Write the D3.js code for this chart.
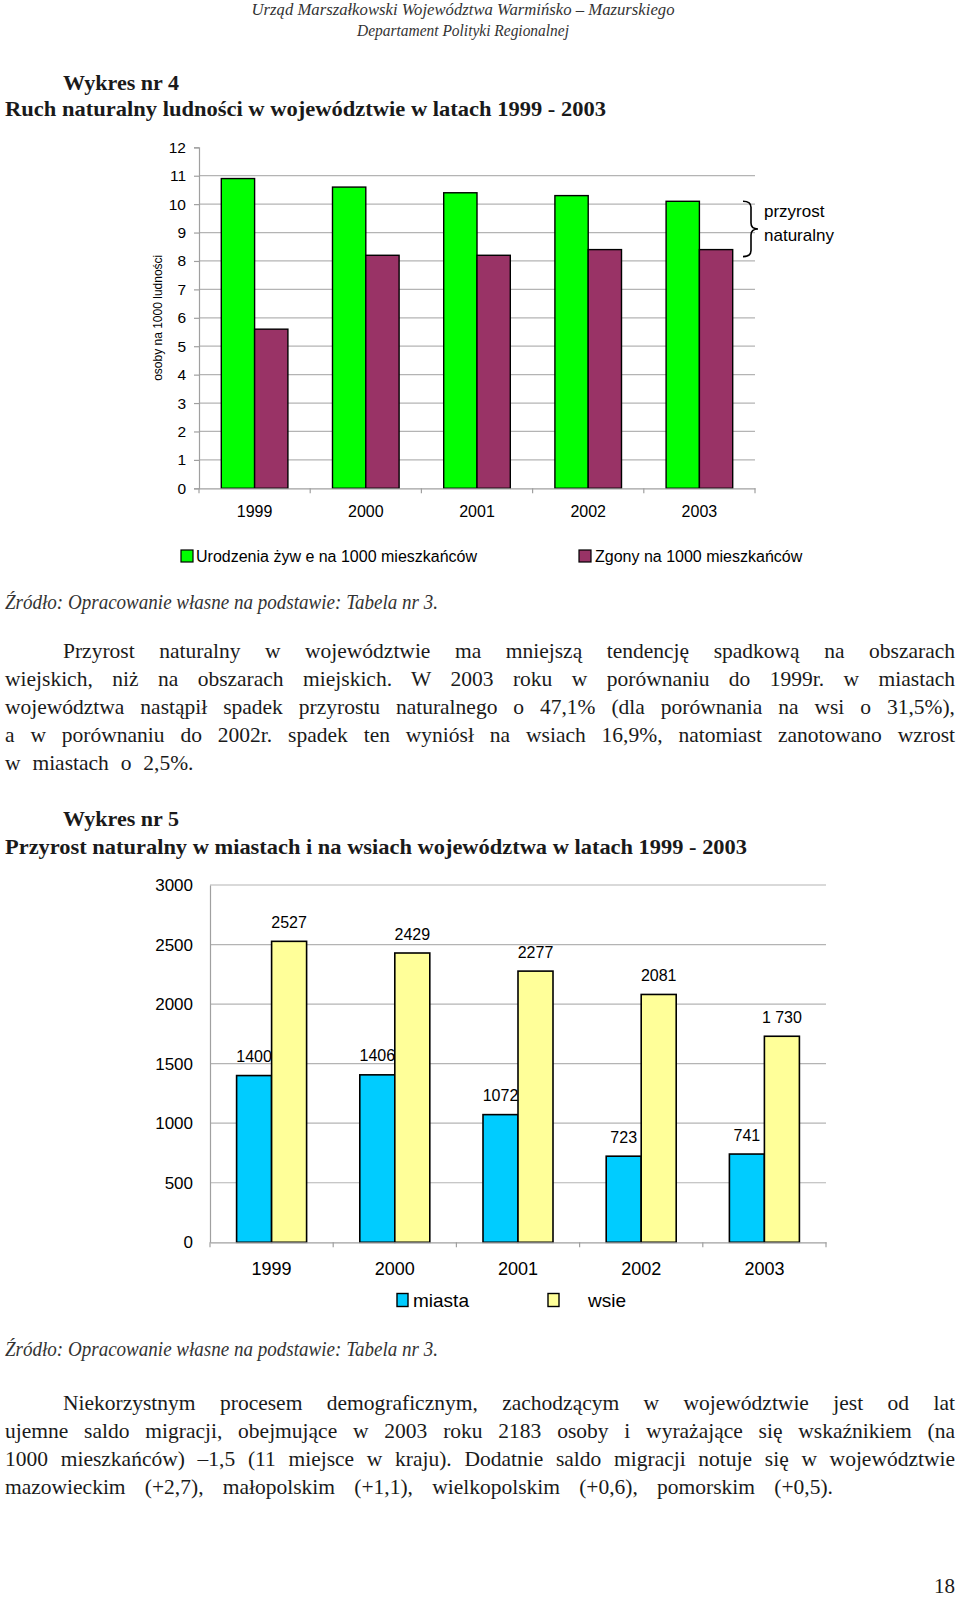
<!DOCTYPE html>
<html><head><meta charset="utf-8">
<script src="https://cdn.jsdelivr.net/npm/d3@7"></script>
<style>
html,body{margin:0;padding:0;background:#fff;}
svg{display:block;}
</style></head>
<body>
<script>
// ---------- data ----------
const years = ["1999", "2000", "2001", "2002", "2003"];
const births = [10.9, 10.6, 10.4, 10.3, 10.1];
const deaths = [5.6, 8.2, 8.2, 8.4, 8.4];
const ticks1 = [0, 1, 2, 3, 4, 5, 6, 7, 8, 9, 10, 11, 12];
const seriesNames1 = ["Urodzenia żyw e na 1000 mieszkańców", "Zgony na 1000 mieszkańców"];
const axisTitle1 = "osoby na 1000 ludności";

const cities = [1400, 1406, 1072, 723, 741];
const villages = [2527, 2429, 2277, 2081, 1730];
const cityLabels = ["1400", "1406", "1072", "723", "741"];
const villageLabels = ["2527", "2429", "2277", "2081", "1 730"];
const ticks2 = [0, 500, 1000, 1500, 2000, 2500, 3000];
const seriesNames2 = ["miasta", "wsie"];

const para1 = [
  "Przyrost naturalny w województwie ma mniejszą tendencję spadkową na obszarach",
  "wiejskich, niż na obszarach miejskich. W 2003 roku w porównaniu do 1999r. w miastach",
  "województwa nastąpił spadek przyrostu naturalnego o 47,1% (dla porównania na wsi o 31,5%),",
  "a w porównaniu do 2002r. spadek ten wyniósł na wsiach 16,9%, natomiast zanotowano wzrost",
  "w miastach o 2,5%."
];
const para2 = [
  "Niekorzystnym procesem demograficznym, zachodzącym w województwie jest od lat",
  "ujemne saldo migracji, obejmujące w 2003 roku 2183 osoby i wyrażające się wskaźnikiem (na",
  "1000 mieszkańców) –1,5 (11 miejsce w kraju). Dodatnie saldo migracji notuje się w województwie",
  "mazowieckim (+2,7), małopolskim (+1,1), wielkopolskim (+0,6), pomorskim (+0,5)."
];

// ---------- setup ----------
const W = 960, H = 1597;
const svg = d3.select("body").append("svg").attr("width", W).attr("height", H);
svg.append("rect").attr("width", W).attr("height", H).attr("fill", "#fff");

const SERIF = "'Liberation Serif', 'Times New Roman', serif";
const SANS = "'Liberation Sans', Arial, sans-serif";
const TXT = "#1a1a1a";

function fit(t, w) {
  t.attr("textLength", w).attr("lengthAdjust", "spacingAndGlyphs");
  return t;
}
function line(x, y, str, opts) {
  const t = svg.append("text").attr("x", x).attr("y", y).text(str)
    .attr("font-family", opts.family || SERIF)
    .attr("font-size", opts.size)
    .attr("fill", opts.fill || TXT);
  if (opts.weight) t.attr("font-weight", opts.weight);
  if (opts.style) t.attr("font-style", opts.style);
  if (opts.anchor) t.attr("text-anchor", opts.anchor);
  if (opts.width) fit(t, opts.width);
  return t;
}
function justify(x0, x1, y, str, size) {
  const t = line(x0, y, str, {size: size});
  const nat = t.node().getComputedTextLength();
  const nsp = (str.match(/ /g) || []).length;
  const target = x1 - x0;
  if (nsp > 0 && nat <= target) {
    t.attr("word-spacing", (target - nat) / nsp);
  } else {
    fit(t, target);
  }
}

// ---------- header ----------
line(463, 15, "Urząd Marszałkowski Województwa Warmińsko – Mazurskiego",
  {size: 17, style: "italic", anchor: "middle", width: 423, fill: "#333"});
line(463, 36, "Departament Polityki Regionalnej",
  {size: 17, style: "italic", anchor: "middle", width: 212, fill: "#333"});

line(63, 90, "Wykres nr 4", {size: 22, weight: "bold", width: 116});
line(5, 116, "Ruch naturalny ludności w województwie w latach 1999 - 2003",
  {size: 22, weight: "bold", width: 601});

// ---------- chart 1 ----------
{
  const x0 = 199, x1 = 755, yb = 488.3, yt = 147.3;
  const x = d3.scaleBand().domain(years).range([x0, x1]).padding(0);
  const y = d3.scaleLinear().domain([0, 12]).range([yb, yt]);
  const bw = 33.3;
  const g = svg.append("g");

  g.selectAll("line.grid").data(ticks1.filter(d => d > 0 && d < 12)).join("line")
    .attr("x1", x0).attr("x2", x1).attr("y1", d => y(d)).attr("y2", d => y(d))
    .attr("stroke", "#b4b4b4").attr("stroke-width", 1.2);

  const ya = g.append("g").attr("transform", `translate(${x0},0)`)
    .call(d3.axisLeft(y).tickValues(ticks1).tickSize(5).tickPadding(8).tickFormat(d3.format("d")));
  ya.select(".domain").attr("stroke", "#a0a0a0").attr("stroke-width", 1.2);
  ya.selectAll(".tick line").attr("stroke", "#a0a0a0").attr("stroke-width", 1.2);
  ya.selectAll(".tick text").attr("font-family", SANS).attr("font-size", 15.5).attr("fill", "#000");

  g.selectAll("rect.b").data(births).join("rect")
    .attr("x", (d, i) => x(years[i]) + x.bandwidth() / 2 - bw)
    .attr("width", bw).attr("y", d => y(d)).attr("height", d => yb - y(d))
    .attr("fill", "#00ff00").attr("stroke", "#000").attr("stroke-width", 1.4);
  g.selectAll("rect.d").data(deaths).join("rect")
    .attr("x", (d, i) => x(years[i]) + x.bandwidth() / 2)
    .attr("width", bw).attr("y", d => y(d)).attr("height", d => yb - y(d))
    .attr("fill", "#993366").attr("stroke", "#000").attr("stroke-width", 1.4);

  const xa = g.append("g").attr("transform", `translate(0,${yb})`)
    .call(d3.axisBottom(x).tickSize(0).tickPadding(17.5));
  xa.select(".domain").attr("stroke", "#a0a0a0").attr("stroke-width", 1.2);
  xa.selectAll(".tick text").attr("font-family", SANS).attr("font-size", 16).attr("fill", "#000");
  g.selectAll("line.xt").data(years.map(d => x(d)).concat([x1])).join("line")
    .attr("x1", d => d).attr("x2", d => d).attr("y1", yb).attr("y2", yb + 5)
    .attr("stroke", "#a0a0a0").attr("stroke-width", 1.2);

  g.append("text").attr("transform", `translate(162,${(yb + yt) / 2}) rotate(-90)`)
    .attr("text-anchor", "middle").attr("font-family", SANS).attr("font-size", 12)
    .attr("fill", "#000").text(axisTitle1);

  const bt = y(births[4]), bb = y(deaths[4]) + 7, bm = (bt + bb) / 2;
  const bx = 743;
  g.append("path")
    .attr("d", `M${bx},${bt} Q${bx + 8},${bt} ${bx + 8},${bt + 6} L${bx + 8},${bm - 6} Q${bx + 8},${bm} ${bx + 15},${bm} Q${bx + 8},${bm} ${bx + 8},${bm + 6} L${bx + 8},${bb - 6} Q${bx + 8},${bb} ${bx},${bb}`)
    .attr("fill", "none").attr("stroke", "#000").attr("stroke-width", 1.6);
  g.append("text").attr("x", 764).attr("y", 216.5).attr("font-family", SANS).attr("font-size", 17).text("przyrost");
  g.append("text").attr("x", 764).attr("y", 240.5).attr("font-family", SANS).attr("font-size", 17).text("naturalny");

  const lg = [{c: "#00ff00", bx: 181, tx: 196}, {c: "#993366", bx: 579, tx: 595}];
  lg.forEach((l, i) => {
    g.append("rect").attr("x", l.bx).attr("y", 550).attr("width", 12).attr("height", 12)
      .attr("fill", l.c).attr("stroke", "#000").attr("stroke-width", 1.2);
    g.append("text").attr("x", l.tx).attr("y", 561.5).attr("font-family", SANS)
      .attr("font-size", 16).attr("fill", "#000").text(seriesNames1[i]);
  });
}

line(5, 609, "Źródło: Opracowanie własne na podstawie: Tabela nr 3.",
  {size: 21, style: "italic", width: 433, fill: "#333"});

const p1y = [657.5, 685.5, 713.5, 741.5, 769.5];
para1.forEach((s, i) => {
  const xs = i === 0 ? 63 : 5;
  const xe = i === para1.length - 1 ? 193.5 : 955;
  justify(xs, xe, p1y[i], s, 21.5);
});

line(63, 826, "Wykres nr 5", {size: 22, weight: "bold", width: 116});
line(5, 854, "Przyrost naturalny w miastach i na wsiach województwa w latach 1999 - 2003",
  {size: 22, weight: "bold", width: 742});

// ---------- chart 2 ----------
{
  const x0 = 210, x1 = 826, yb = 1242.3, yt = 885;
  const x = d3.scaleBand().domain(years).range([x0, x1]).padding(0);
  const y = d3.scaleLinear().domain([0, 3000]).range([yb, yt]);
  const bw = 35;
  const g = svg.append("g");

  g.selectAll("line.grid").data(ticks2.filter(d => d > 0)).join("line")
    .attr("x1", x0).attr("x2", x1).attr("y1", d => y(d)).attr("y2", d => y(d))
    .attr("stroke", "#b4b4b4").attr("stroke-width", 1.2);

  const ya = g.append("g").attr("transform", `translate(${x0},0)`)
    .call(d3.axisLeft(y).tickValues(ticks2).tickSize(0).tickPadding(17).tickFormat(d3.format("d")));
  ya.select(".domain").attr("stroke", "#a0a0a0").attr("stroke-width", 1.2);
  ya.selectAll(".tick text").attr("font-family", SANS).attr("font-size", 17).attr("fill", "#000");

  g.selectAll("rect.c").data(cities).join("rect")
    .attr("x", (d, i) => x(years[i]) + x.bandwidth() / 2 - bw)
    .attr("width", bw).attr("y", d => y(d)).attr("height", d => yb - y(d))
    .attr("fill", "#00ccff").attr("stroke", "#000").attr("stroke-width", 1.6);
  g.selectAll("rect.v").data(villages).join("rect")
    .attr("x", (d, i) => x(years[i]) + x.bandwidth() / 2)
    .attr("width", bw).attr("y", d => y(d)).attr("height", d => yb - y(d))
    .attr("fill", "#ffff99").attr("stroke", "#000").attr("stroke-width", 1.6);

  g.selectAll("text.lc").data(cities).join("text")
    .attr("x", (d, i) => x(years[i]) + x.bandwidth() / 2 - bw / 2)
    .attr("y", d => y(d) - 13.5).attr("text-anchor", "middle")
    .attr("font-family", SANS).attr("font-size", 16).attr("fill", "#000")
    .text((d, i) => cityLabels[i]);
  g.selectAll("text.lv").data(villages).join("text")
    .attr("x", (d, i) => x(years[i]) + x.bandwidth() / 2 + bw / 2)
    .attr("y", d => y(d) - 13.5).attr("text-anchor", "middle")
    .attr("font-family", SANS).attr("font-size", 16).attr("fill", "#000")
    .text((d, i) => villageLabels[i]);

  const xa = g.append("g").attr("transform", `translate(0,${yb})`)
    .call(d3.axisBottom(x).tickSize(0).tickPadding(20));
  xa.select(".domain").attr("stroke", "#a0a0a0").attr("stroke-width", 1.2);
  xa.selectAll(".tick text").attr("font-family", SANS).attr("font-size", 18).attr("fill", "#000");
  g.selectAll("line.xt").data(years.map(d => x(d)).concat([x1])).join("line")
    .attr("x1", d => d).attr("x2", d => d).attr("y1", yb).attr("y2", yb + 5)
    .attr("stroke", "#a0a0a0").attr("stroke-width", 1.2);

  const lg = [{c: "#00ccff", bx: 397, tx: 413}, {c: "#ffff99", bx: 548, tx: 588}];
  lg.forEach((l, i) => {
    g.append("rect").attr("x", l.bx).attr("y", 1293.5).attr("width", 11).attr("height", 13)
      .attr("fill", l.c).attr("stroke", "#000").attr("stroke-width", 1.4);
    g.append("text").attr("x", l.tx).attr("y", 1307).attr("font-family", SANS)
      .attr("font-size", 19).attr("fill", "#000").text(seriesNames2[i]);
  });
}

line(5, 1356, "Źródło: Opracowanie własne na podstawie: Tabela nr 3.",
  {size: 21, style: "italic", width: 433, fill: "#333"});

const p2y = [1409.5, 1437.5, 1466, 1494];
para2.forEach((s, i) => {
  const xs = i === 0 ? 63 : 5;
  const xe = i === para2.length - 1 ? 833 : 955;
  justify(xs, xe, p2y[i], s, 21.5);
});

line(955, 1593, "18", {size: 21, anchor: "end"});
</script>
</body></html>
